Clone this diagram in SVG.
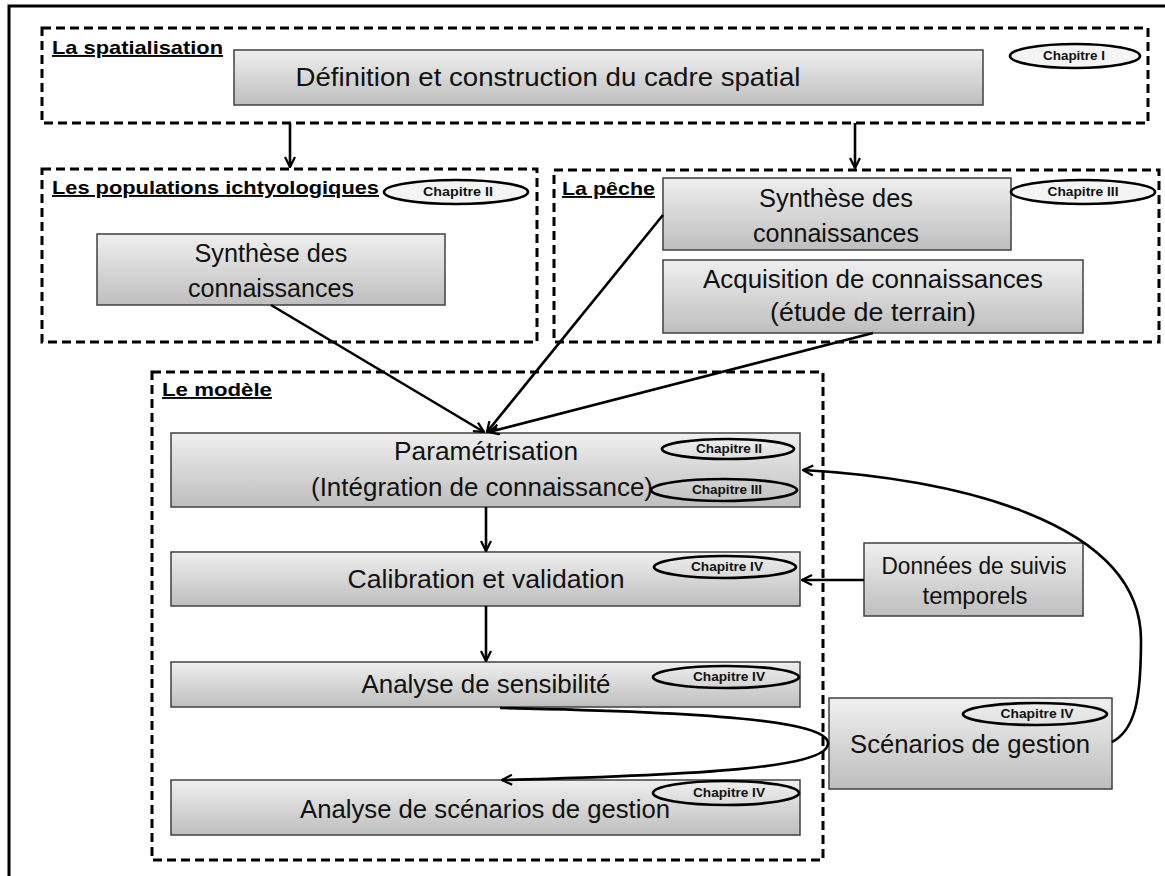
<svg xmlns="http://www.w3.org/2000/svg" width="1165" height="876" viewBox="0 0 1165 876">
<style>
.frame{fill:none;stroke:#000;stroke-width:3;stroke-dasharray:9 5}
.box{fill:url(#g);stroke:#404040;stroke-width:1.5}
.t{font-family:"Liberation Sans",Arial,sans-serif;font-size:25px;fill:#111;text-anchor:middle}
.s{font-size:23px}
.h{font-family:"Liberation Sans",Arial,sans-serif;font-size:19px;font-weight:bold;fill:#000;text-decoration:underline}
.ch{font-family:"Liberation Sans",Arial,sans-serif;font-size:12px;font-weight:bold;fill:#111;text-anchor:middle}
.el{fill:none;stroke:#000;stroke-width:2.7}
.elf{fill:#f4f4f4;stroke:#000;stroke-width:2.7}
.c{fill:none;stroke:#000;stroke-width:2.6;marker-end:url(#a)}
</style>
<defs>
<linearGradient id="g" x1="0" y1="0" x2="0" y2="1">
<stop offset="0" stop-color="#efefef"/>
<stop offset="1" stop-color="#bebebe"/>
</linearGradient>
<marker id="a" viewBox="0 0 12 12" refX="11" refY="6" markerWidth="12" markerHeight="12" markerUnits="userSpaceOnUse" orient="auto">
<path d="M1,1 L11,6 L1,11" fill="none" stroke="#000" stroke-width="2.3"/>
</marker>
</defs>
<path d="M9,876 V6 H1165" fill="none" stroke="#000" stroke-width="3"/>

<g id="spatialisation">
<rect class="frame" x="42" y="28" width="1106" height="95"/>
<text class="h" x="52" y="54" textLength="171" lengthAdjust="spacingAndGlyphs">La spatialisation</text>
<rect class="box" x="234" y="50" width="749" height="55"/>
<text class="t" x="548" y="86" textLength="505" lengthAdjust="spacingAndGlyphs">Définition et construction du cadre spatial</text>
<ellipse class="elf" cx="1075" cy="56" rx="65" ry="12"/>
<text class="ch" x="1074" y="60" textLength="62" lengthAdjust="spacingAndGlyphs">Chapitre I</text>
</g>

<g id="populations">
<rect class="frame" x="42" y="169" width="495" height="173"/>
<text class="h" x="52" y="194" textLength="327" lengthAdjust="spacingAndGlyphs">Les populations ichtyologiques</text>
<ellipse class="elf" cx="456" cy="192" rx="72" ry="12"/>
<text class="ch" x="458" y="196" textLength="70" lengthAdjust="spacingAndGlyphs">Chapitre II</text>
<rect class="box" x="97" y="234" width="348" height="71"/>
<text class="t" x="271" y="262" textLength="153" lengthAdjust="spacingAndGlyphs">Synthèse des</text>
<text class="t" x="271" y="297" textLength="166" lengthAdjust="spacingAndGlyphs">connaissances</text>
</g>

<g id="peche">
<rect class="frame" x="554" y="170" width="605" height="172"/>
<text class="h" x="562" y="195" textLength="93" lengthAdjust="spacingAndGlyphs">La pêche</text>
<rect class="box" x="663" y="178" width="348" height="72"/>
<text class="t" x="836" y="207" textLength="154" lengthAdjust="spacingAndGlyphs">Synthèse des</text>
<text class="t" x="836" y="242" textLength="166" lengthAdjust="spacingAndGlyphs">connaissances</text>
<ellipse class="elf" cx="1083" cy="192" rx="72" ry="12"/>
<text class="ch" x="1083" y="196" textLength="71" lengthAdjust="spacingAndGlyphs">Chapitre III</text>
<rect class="box" x="663" y="260" width="420" height="73"/>
<text class="t" x="873" y="288" textLength="340" lengthAdjust="spacingAndGlyphs">Acquisition de connaissances</text>
<text class="t" x="873" y="321" textLength="206" lengthAdjust="spacingAndGlyphs">(étude de terrain)</text>
</g>

<g id="modele">
<rect class="frame" x="152" y="372" width="671" height="488"/>
<text class="h" x="162" y="396" textLength="110" lengthAdjust="spacingAndGlyphs">Le modèle</text>
</g>

<g id="parametrisation">
<rect class="box" x="171" y="433" width="629" height="74"/>
<text class="t" x="486" y="460" textLength="184" lengthAdjust="spacingAndGlyphs">Paramétrisation</text>
<text class="t" x="482" y="496" textLength="342" lengthAdjust="spacingAndGlyphs">(Intégration de connaissance)</text>
<ellipse class="el" cx="728" cy="449" rx="66" ry="10"/>
<text class="ch" x="729" y="453" textLength="66" lengthAdjust="spacingAndGlyphs">Chapitre II</text>
<ellipse class="el" cx="724" cy="490" rx="73" ry="11"/>
<text class="ch" x="727" y="494" textLength="70" lengthAdjust="spacingAndGlyphs">Chapitre III</text>
</g>

<g id="calibration">
<rect class="box" x="171" y="552" width="629" height="54"/>
<text class="t" x="486" y="588" textLength="277" lengthAdjust="spacingAndGlyphs">Calibration et validation</text>
<ellipse class="el" cx="725" cy="567" rx="71" ry="11"/>
<text class="ch" x="727" y="571" textLength="72" lengthAdjust="spacingAndGlyphs">Chapitre IV</text>
</g>

<g id="sensibilite">
<rect class="box" x="171" y="662" width="629" height="45"/>
<text class="t" x="486" y="693" textLength="249" lengthAdjust="spacingAndGlyphs">Analyse de sensibilité</text>
<ellipse class="el" cx="726" cy="677" rx="73" ry="11"/>
<text class="ch" x="729" y="681" textLength="72" lengthAdjust="spacingAndGlyphs">Chapitre IV</text>
</g>

<g id="analyse-scenarios">
<rect class="box" x="171" y="780" width="629" height="55"/>
<text class="t" x="485" y="818" textLength="370" lengthAdjust="spacingAndGlyphs">Analyse de scénarios de gestion</text>
<ellipse class="el" cx="726" cy="793" rx="73" ry="12"/>
<text class="ch" x="729" y="797" textLength="72" lengthAdjust="spacingAndGlyphs">Chapitre IV</text>
</g>

<g id="donnees">
<rect class="box" x="864" y="543" width="219" height="73"/>
<text class="t s" x="974" y="574" textLength="185" lengthAdjust="spacingAndGlyphs">Données de suivis</text>
<text class="t s" x="975" y="604" textLength="105" lengthAdjust="spacingAndGlyphs">temporels</text>
</g>

<g id="scenarios-gestion">
<rect class="box" x="829" y="698" width="283" height="91"/>
<ellipse class="el" cx="1035" cy="714" rx="72" ry="11"/>
<text class="ch" x="1037" y="718" textLength="73" lengthAdjust="spacingAndGlyphs">Chapitre IV</text>
<text class="t" x="970" y="753" textLength="240" lengthAdjust="spacingAndGlyphs">Scénarios de gestion</text>
</g>

<g id="connectors">
<path class="c" d="M290,123 V167"/>
<path class="c" d="M855,123 V168"/>
<path class="c" d="M271,305 L484,432"/>
<path class="c" d="M663,215 L487,432"/>
<path class="c" d="M873,333 L489,432"/>
<path class="c" d="M486,507 V551"/>
<path class="c" d="M486,606 V661"/>
<path class="c" d="M864,580 H802"/>
<path class="c" d="M1112,742 C1135,730 1141,700 1141,640 C1141,520 950,478 803,470"/>
<path class="c" d="M500,708 C700,712 830,720 828,744 C826,768 700,775 502,780"/>
</g>
</svg>
